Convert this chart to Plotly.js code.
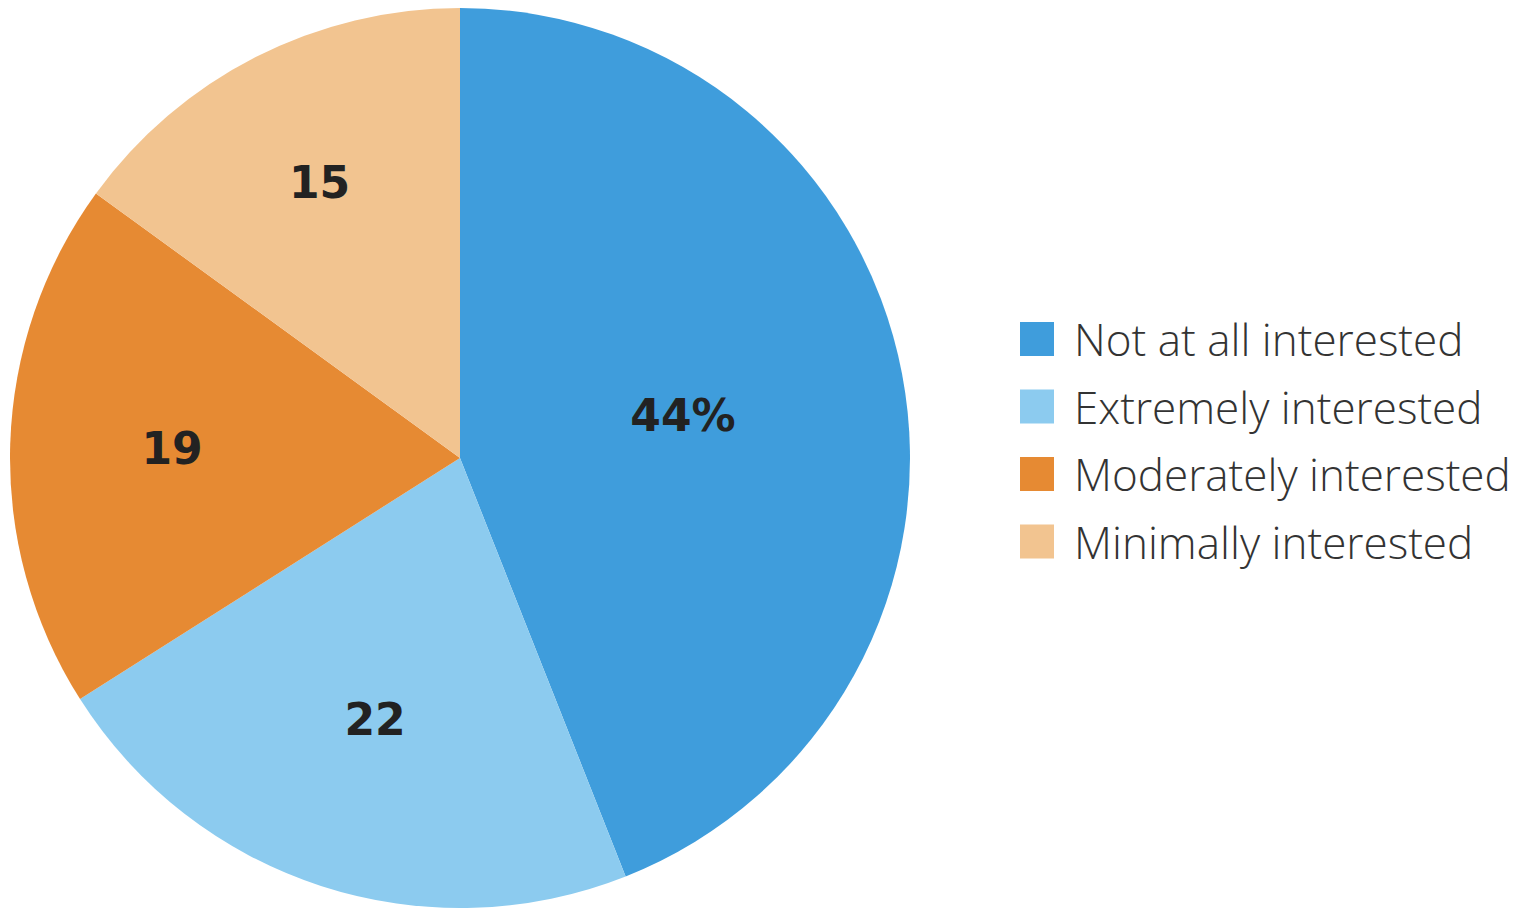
<!DOCTYPE html>
<html><head><meta charset="utf-8">
<script src="https://cdn.plot.ly/plotly-3.0.1.min.js"></script>
<style>html,body{margin:0;padding:0;background:#fff;}#chart{width:1539px;height:909px;}</style>
</head><body><div id="chart"></div>
<script>
const labels = ["Not at all interested", "Extremely interested", "Moderately interested", "Minimally interested"];
const values = [44, 22, 19, 15];
const sliceText = ["44%", "22", "19", "15"];
const colors = ["#3f9ddc", "#8ccbef", "#e68a33", "#f2c490"];

const W = 1539, H = 909;
const trace = {
  type: "pie",
  labels: labels,
  values: values,
  text: sliceText,
  textinfo: "text",
  textposition: "inside",
  insidetextorientation: "horizontal",
  sort: false,
  direction: "clockwise",
  rotation: 0,
  marker: {colors: colors, line: {width: 0}},
  textfont: {family: "DejaVu Sans, sans-serif", size: 44, color: "#222222", weight: 700},
  domain: {x: [10 / W, 910 / W], y: [1 - 908 / H, 1 - 8 / H]},
  showlegend: false,
  hoverinfo: "label+value"
};

// Legend built from labels/colors
const shapes = [], annotations = [];
const legX0 = 1020, legSize = 34, legY0 = 339, legStep = 67.5;
labels.forEach((lab, i) => {
  const cy = legY0 + i * legStep;
  shapes.push({type: "rect", xref: "paper", yref: "paper",
    x0: legX0 / W, x1: (legX0 + legSize) / W,
    y0: 1 - (cy + legSize / 2) / H, y1: 1 - (cy - legSize / 2) / H,
    fillcolor: colors[i], line: {width: 0}});
  annotations.push({xref: "paper", yref: "paper", x: 1072 / W, y: 1 - cy / H,
    xanchor: "left", yanchor: "middle", showarrow: false, text: lab,
    font: {family: "Open Sans, sans-serif", size: 44, color: "#333333", weight: 300}});
});

const layout = {
  width: W, height: H,
  margin: {l: 0, r: 0, t: 0, b: 0},
  paper_bgcolor: "#ffffff",
  showlegend: false,
  shapes: shapes,
  annotations: annotations
};
Plotly.newPlot("chart", [trace], layout, {displayModeBar: false, staticPlot: true});
</script></body></html>
